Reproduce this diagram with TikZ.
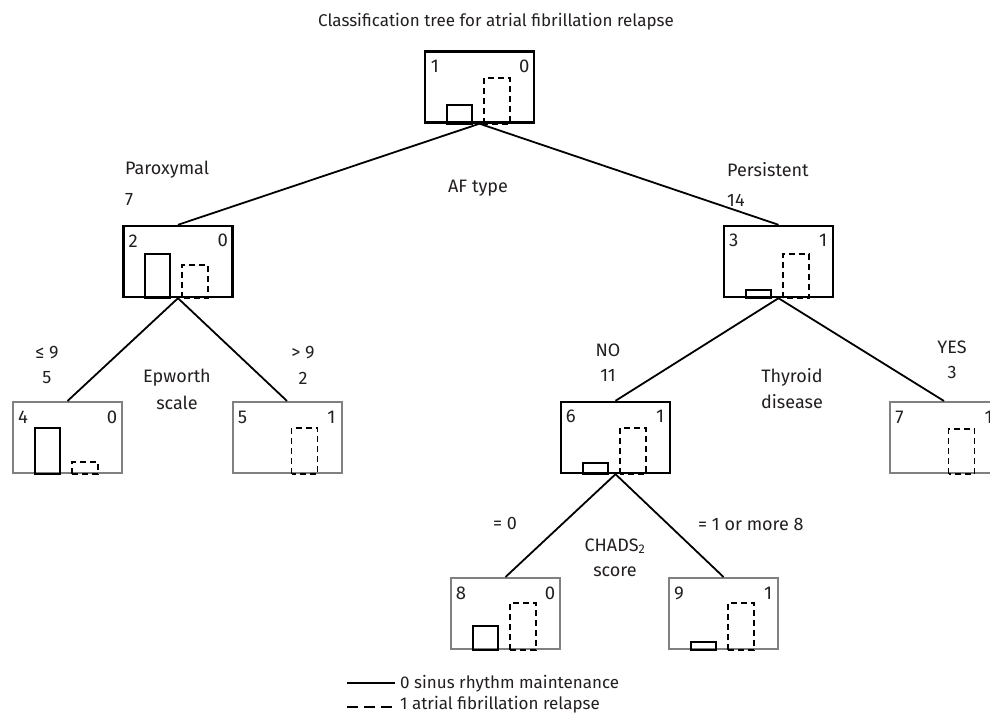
\documentclass[tikz,border=0pt]{standalone}
\usepackage{fontspec}
\setmainfont{Fira Sans}
\usetikzlibrary{calc}
\definecolor{boxgray}{RGB}{128,128,128}
\definecolor{txt}{RGB}{35,31,32}
\newcommand{\digits}[3]{%
  \node[lbl, font=\fontsize{18.5}{22}\selectfont] (#1l) at ($(#1.north west)+(11,16)$) {#2};
  \node[lbl, font=\fontsize{18.5}{22}\selectfont] (#1r) at ($(#1.north east)+(-11,16)$) {#3};}
\newcommand{\sbarat}[2]{\draw[sbar] ($(#1.south west)+(23,0)$) rectangle ++(25,-#2);}
\newcommand{\dbarat}[2]{\draw[dbar] ($(#1.south west)+(60,0)$) rectangle ++(26,-#2);}
\begin{document}
\begin{tikzpicture}[x=1pt,y=-1pt,
  font=\fontsize{18}{22}\selectfont, text=txt,
  tbox/.style={draw=black, line width=2.4pt, minimum width=109pt, minimum height=71pt, inner sep=0pt},
  gbox/.style={draw=boxgray, line width=2pt, minimum width=109pt, minimum height=71pt, inner sep=0pt},
  edge/.style={line width=1.8pt},
  sbar/.style={draw=black, line width=1.8pt},
  dbar/.style={draw=black, line width=1.8pt, dash pattern=on 6pt off 4pt},
  lbl/.style={inner sep=0pt, anchor=center},
  small/.style={font=\fontsize{17}{20}\selectfont}]
\useasboundingbox (0,0) rectangle (990,717);
\clip (0,0) rectangle (990,717);
% title
\node[lbl, small] (title) at (496,22) {Classification tree for atrial fibrillation relapse};
% boxes
\node[tbox] (b1) at (479.5,87) {};
\node[tbox] (b2) at (178,261.5) {};
\node[tbox] (b3) at (778.5,261.5) {};
\node[gbox] (b4) at (67.5,437.5) {};
\node[gbox] (b5) at (287,437.5) {};
\node[tbox] (b6) at (615.5,437.5) {};
\node[gbox] (b7) at (944,437.5) {};
\node[gbox] (b8) at (505.5,613.5) {};
\node[gbox] (b9) at (723.5,613.5) {};
% contents
\digits{b1}{1}{0} \sbarat{b1}{19} \dbarat{b1}{46}
\digits{b2}{2}{0} \sbarat{b2}{44} \dbarat{b2}{33}
\digits{b3}{3}{1} \sbarat{b3}{8} \dbarat{b3}{44}
\digits{b4}{4}{0} \sbarat{b4}{46} \dbarat{b4}{12}
\digits{b5}{5}{1} \dbarat{b5}{46}
\digits{b6}{6}{1} \sbarat{b6}{11} \dbarat{b6}{46}
\digits{b7}{7}{1} \dbarat{b7}{45}
\digits{b8}{8}{0} \sbarat{b8}{24} \dbarat{b8}{47}
\digits{b9}{9}{1} \sbarat{b9}{8} \dbarat{b9}{47}
% edges
\draw[edge] (b1.south) -- (b2.north);
\draw[edge] (b1.south) -- (b3.north);
\draw[edge] (b2.south) -- (b4.north);
\draw[edge] (b2.south) -- (b5.north);
\draw[edge] (b3.south) -- (b6.north);
\draw[edge] (b3.south) -- (b7.north);
\draw[edge] (b6.south) -- (b8.north);
\draw[edge] (b6.south) -- (b9.north);
% labels
\node[lbl, anchor=west] (parox) at (125,170) {Paroxymal};
\node[lbl, anchor=west] (n7) at (125,200) {7};
\node[lbl, anchor=west] (pers) at (727,170) {Persistent};
\node[lbl, anchor=west] (n14) at (727,200) {14};
\node[lbl] (af) at (478,188) {AF type};
\node[lbl] (le9) at (47,353) {≤ 9};
\node[lbl] (n5) at (47,378) {5};
\node[lbl] (gt9) at (303,353) {> 9};
\node[lbl] (n2) at (303,378) {2};
\node[lbl] (ep1) at (177,378) {Epworth};
\node[lbl] (ep2) at (177,403) {scale};
\node[lbl] (no) at (608,350) {NO};
\node[lbl] (n11) at (608,375) {11};
\node[lbl] (yes) at (952,347) {YES};
\node[lbl] (n3) at (952,372) {3};
\node[lbl] (th1) at (792,377) {Thyroid};
\node[lbl] (th2) at (792,402) {disease};
\node[lbl] (eq0) at (505,523) {= 0};
\node[lbl, anchor=west] (eq1) at (698,524) {= 1 or more 8};
\node[lbl] (ch1) at (615,546) {CHADS\textsubscript{2}};
\node[lbl] (ch2) at (615,572) {score};
% legend
\coordinate (l1a) at (347,683);
\coordinate (l1b) at (395,683);
\coordinate (l2a) at (347,707);
\coordinate (l2b) at (395,707);
\draw[line width=1.8pt] (l1a) -- (l1b);
\draw[line width=1.8pt, dash pattern=on 11pt off 6pt] (l2a) -- (l2b);
\node[lbl, small, anchor=west] (leg1) at (400,684) {0 sinus rhythm maintenance};
\node[lbl, small, anchor=west] (leg2) at (400,705) {1 atrial fibrillation relapse};
\end{tikzpicture}
\end{document}
